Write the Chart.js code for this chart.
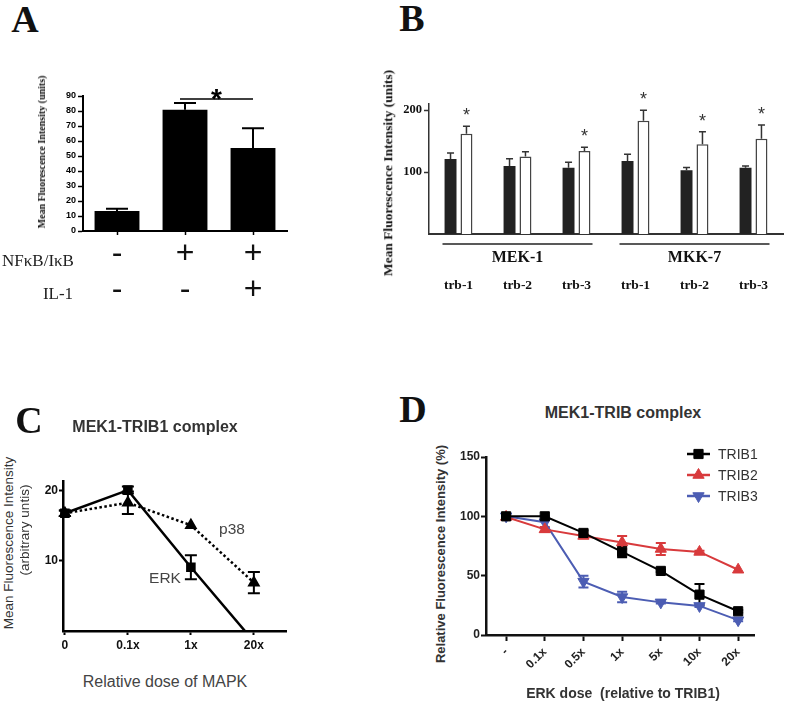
<!DOCTYPE html>
<html>
<head>
<meta charset="utf-8">
<script src="https://cdn.jsdelivr.net/npm/chart.js@4.4.0/dist/chart.umd.min.js"></script>
<style>
  html, body { margin: 0; padding: 0; background: #fff; }
  body { width: 787px; height: 703px; position: relative; overflow: hidden; }
  canvas { position: absolute; }
  .t { position: absolute; transform: translate(-50%, -50%); white-space: nowrap; line-height: 1; }
  .rot { transform: translate(-50%, -50%) rotate(-90deg); }
  .serif { font-family: 'Liberation Serif', 'Times New Roman', serif; }
  .sans { font-family: 'Liberation Sans', Arial, sans-serif; }
  .letter { font-family: 'Liberation Serif', serif; font-weight: bold; font-size: 38px; color: #111; }
</style>
</head>
<body>
<canvas id="chartA"></canvas>
<canvas id="chartB"></canvas>
<canvas id="chartC"></canvas>
<canvas id="chartD"></canvas>

<div class="t letter" style="left:25px;top:19px">A</div>
<div class="t rot serif" style="left:42px;top:152px;font-size:10px;font-weight:bold;color:#111">Mean Fluorescence Intensity (units)</div>
<div class="t serif" style="left:38px;top:260px;font-size:17px;color:#222">NFκB/IκB</div>
<div class="t serif" style="left:58px;top:293px;font-size:17px;color:#222">IL-1</div>

<div class="t letter" style="left:412px;top:18px">B</div>
<div class="t rot serif" style="left:388px;top:173px;font-size:13.5px;font-weight:bold;color:#111">Mean Fluorescence Intensity (units)</div>

<div class="t letter" style="left:29px;top:420px">C</div>
<div class="t sans" style="left:155px;top:427px;font-size:16px;font-weight:bold;color:#333">MEK1-TRIB1 complex</div>
<div class="t rot sans" style="left:9px;top:543px;font-size:13.5px;color:#333">Mean Fluorescence Intensity</div>
<div class="t rot sans" style="left:25px;top:530px;font-size:13.5px;color:#333">(arbitrary untis)</div>
<div class="t sans" style="left:165px;top:578px;font-size:15.5px;color:#444">ERK</div>
<div class="t sans" style="left:232px;top:529px;font-size:15.5px;color:#444">p38</div>
<div class="t sans" style="left:165px;top:682px;font-size:16px;color:#444">Relative dose of MAPK</div>

<div class="t letter" style="left:413px;top:409px">D</div>
<div class="t sans" style="left:623px;top:413px;font-size:16px;font-weight:bold;color:#333">MEK1-TRIB complex</div>
<div class="t rot sans" style="left:440px;top:554px;font-size:13px;font-weight:bold;color:#333">Relative Fluorescence Intensity (%)</div>
<div class="t sans" style="left:623px;top:693px;font-size:14px;font-weight:bold;color:#333">ERK dose&nbsp; (relative to TRIB1)</div>

<script>
// Panel A: bars with NFkB/IkB and IL-1 conditions
const conditionsA = [['-', '-'], ['+', '-'], ['+', '+']];
const intensityA = [13.3, 80.9, 55.4];
const errorA = [1.6, 4.5, 13.1];

// Panel B: control (black) vs treated (white) per kinase / tribbles pair
const groupsB = ['MEK-1', 'MKK-7'];
const tribblesB = ['trb-1', 'trb-2', 'trb-3', 'trb-1', 'trb-2', 'trb-3'];
const controlB = [121, 110, 107, 118, 103, 107];
const controlErrB = [10, 11.5, 9, 11, 4.5, 3];
const treatedB = [162, 125, 134, 183, 145, 154];
const treatedErrB = [12, 8, 6, 17, 20, 22];
const significantB = [true, false, true, true, true, true];
const yTicksB = [100, 200];

// Panel C: MEK1-TRIB1 complex vs MAPK dose
const doseC = ['0', '0.1x', '1x', '20x'];
const erkC = [16.8, 20.1, 9.1, -1.5];
const erkErrC = [0.4, 0.5, 1.7, 0];
const p38C = [16.8, 18.3, 15.1, 6.9];
const p38ErrC = [0.4, 1.6, 0, 1.5];
const yTicksC = [10, 20];

// Panel D: MEK1-TRIB complex vs ERK dose
const doseD = ['-', '0.1x', '0.5x', '1x', '5x', '10x', '20x'];
const trib1 = [100, 100, 86, 70, 54, 34, 20];
const trib1Err = [0, 0, 2, 4.5, 1, 9, 1];
const trib2 = [99.5, 89, 83.5, 78, 72.5, 70, 55];
const trib2Err = [0, 2, 2, 5.5, 5, 1, 0];
const trib3 = [100, 95, 45, 32, 27.5, 24.5, 12.5];
const trib3Err = [0, 5, 5, 4.5, 1, 1, 1];

const SANS = "'Liberation Sans', Arial, sans-serif";
const SERIF = "'Liberation Serif', 'Times New Roman', serif";

function placeCanvas(id, box) {
    const c = document.getElementById(id);
    c.width = box.w;
    c.height = box.h;
    c.style.left = box.l + 'px';
    c.style.top = box.t + 'px';
    c.style.width = box.w + 'px';
    c.style.height = box.h + 'px';
    return c;
}

// padding so the plot area lands on the given page rectangle
function framePadding(box, area, yw, xh) {
    return {
        left: area.l - box.l - yw,
        top: area.t - box.t,
        right: box.l + box.w - area.r,
        bottom: box.t + box.h - area.b - xh,
    };
}

function zeroPad(s) {
    s.paddingLeft = 0;
    s.paddingRight = 0;
    s.paddingTop = 0;
    s.paddingBottom = 0;
}
const fixWidth = (w) => (s) => { s.width = w; zeroPad(s); };
const fixHeight = (h) => (s) => { s.height = h; zeroPad(s); };
const fixedTicks = (values) => (s) => { s.ticks = values.map((value) => ({ value })); };

function drawErrors(chart, phase) {
    const ctx = chart.ctx;
    chart.data.datasets.forEach((ds, i) => {
        if (!ds.errors || (ds.errorPhase || 'after') !== phase) return;
        const meta = chart.getDatasetMeta(i);
        const yScale = chart.scales[meta.yAxisID];
        ctx.save();
        ctx.strokeStyle = ds.errorColor || ds.borderColor;
        ctx.lineWidth = ds.errorWidth || 2;
        meta.data.forEach((el, j) => {
            const err = ds.errors[j];
            if (!err) return;
            const v = meta.controller.getParsed(j).y;
            const x = el.x;
            const top = yScale.getPixelForValue(v + err);
            const bottom = yScale.getPixelForValue(ds.errorBoth ? v - err : v);
            const half = ds.capWidth / 2;
            ctx.beginPath();
            ctx.moveTo(x, bottom);
            ctx.lineTo(x, top);
            ctx.moveTo(x - half, top);
            ctx.lineTo(x + half, top);
            if (ds.errorBoth) {
                ctx.moveTo(x - half, bottom);
                ctx.lineTo(x + half, bottom);
            }
            ctx.stroke();
        });
        ctx.restore();
    });
}

const errorBars = {
    id: 'errorBars',
    beforeDatasetsDraw(chart) { drawErrors(chart, 'before'); },
    afterDatasetsDraw(chart) { drawErrors(chart, 'after'); },
};

// ---------- Panel A ----------
const boxA = { l: 0, t: 60, w: 300, h: 260 };
const areaA = { l: 83, t: 96, r: 287, b: 231 };

const sigA = {
    id: 'sigA',
    afterDatasetsDraw(chart) {
        const { ctx, scales: { x, y } } = chart;
        const x1 = x.getPixelForValue(1) - 5;
        const x2 = x.getPixelForValue(2);
        const yy = y.getPixelForValue(88);
        ctx.save();
        ctx.strokeStyle = '#000';
        ctx.lineWidth = 1.5;
        ctx.beginPath();
        ctx.moveTo(x1, yy);
        ctx.lineTo(x2, yy);
        ctx.stroke();
        ctx.fillStyle = '#000';
        ctx.font = `bold 28px ${SANS}`;
        ctx.textAlign = 'center';
        ctx.textBaseline = 'alphabetic';
        ctx.fillText('*', (x1 + x2) / 2, yy + 9);
        ctx.restore();
    },
};

new Chart(placeCanvas('chartA', boxA), {
    type: 'bar',
    data: {
        labels: conditionsA,
        datasets: [{
            data: intensityA,
            errors: errorA,
            errorColor: '#000',
            errorWidth: 2,
            capWidth: 22,
            backgroundColor: '#000',
            barPercentage: 0.66,
            categoryPercentage: 1,
        }],
    },
    options: {
        responsive: false,
        animation: false,
        layout: { padding: framePadding(boxA, areaA, 83, 80) },
        plugins: { legend: { display: false }, tooltip: { enabled: false } },
        scales: {
            x: {
                grid: { offset: false, drawOnChartArea: false, tickLength: 4, tickColor: '#000', tickWidth: 1.5 },
                border: { color: '#000', width: 2 },
                ticks: { color: '#111', padding: 1, maxRotation: 0, autoSkip: false, font: { family: SANS, size: 32, lineHeight: 1.125 } },
                afterFit: fixHeight(80),
            },
            y: {
                min: 0,
                max: 90,
                grid: { drawOnChartArea: false, tickLength: 5, tickColor: '#000', tickWidth: 1.5 },
                border: { color: '#000', width: 2 },
                ticks: { stepSize: 10, color: '#000', padding: 2, font: { family: SANS, size: 9, weight: 'bold' } },
                afterFit: fixWidth(83),
            },
        },
    },
    plugins: [errorBars, sigA],
});

// ---------- Panel B ----------
const boxB = { l: 395, t: 78, w: 392, h: 222 };
const areaB = { l: 429, t: 104, r: 783, b: 234 };

const groupsPluginB = {
    id: 'groupsB',
    afterDraw(chart) {
        const { ctx, scales: { x }, chartArea } = chart;
        ctx.save();
        ctx.strokeStyle = '#222';
        ctx.fillStyle = '#111';
        ctx.lineWidth = 1.5;
        ctx.font = `bold 16px ${SERIF}`;
        ctx.textAlign = 'center';
        ctx.textBaseline = 'middle';
        groupsB.forEach((name, g) => {
            const left = x.getPixelForValue(g * 3) - 16;
            const right = x.getPixelForValue(g * 3 + 2) + 16;
            ctx.beginPath();
            ctx.moveTo(left, chartArea.bottom + 10);
            ctx.lineTo(right, chartArea.bottom + 10);
            ctx.stroke();
            ctx.fillText(name, (left + right) / 2, chartArea.bottom + 24);
        });
        // significance stars over the treated bars
        const meta = chart.getDatasetMeta(1);
        const yScale = chart.scales.y;
        ctx.fillStyle = '#333';
        ctx.font = `18px ${SANS}`;
        ctx.textBaseline = 'alphabetic';
        significantB.forEach((sig, j) => {
            if (!sig) return;
            const capY = yScale.getPixelForValue(treatedB[j] + treatedErrB[j]);
            ctx.fillText('*', meta.data[j].x, capY - 5);
        });
        ctx.restore();
    },
};

new Chart(placeCanvas('chartB', boxB), {
    type: 'bar',
    data: {
        labels: tribblesB,
        datasets: [
            {
                data: controlB,
                errors: controlErrB,
                errorColor: '#333',
                errorWidth: 1.5,
                capWidth: 7,
                backgroundColor: '#222',
                barPercentage: 0.75,
                categoryPercentage: 0.54,
            },
            {
                data: treatedB,
                errors: treatedErrB,
                errorColor: '#333',
                errorWidth: 1.5,
                capWidth: 7,
                backgroundColor: '#fff',
                borderColor: '#444',
                borderWidth: 1.5,
                barPercentage: 0.75,
                categoryPercentage: 0.54,
            },
        ],
    },
    options: {
        responsive: false,
        animation: false,
        layout: { padding: framePadding(boxB, areaB, 34, 60) },
        plugins: { legend: { display: false }, tooltip: { enabled: false } },
        scales: {
            x: {
                grid: { display: false },
                border: { color: '#333', width: 2 },
                ticks: { color: '#111', padding: 35, maxRotation: 0, autoSkip: false, font: { family: SERIF, size: 13.5, weight: 'bold' } },
                afterFit: fixHeight(60),
            },
            y: {
                min: 0,
                max: 210,
                afterBuildTicks: fixedTicks(yTicksB),
                grid: { drawOnChartArea: false, tickLength: 5, tickColor: '#333', tickWidth: 1.5 },
                border: { color: '#333', width: 1.5 },
                ticks: { color: '#111', padding: 2, font: { family: SERIF, size: 12.5, weight: 'bold' } },
                afterFit: fixWidth(34),
            },
        },
    },
    plugins: [errorBars, groupsPluginB],
});

// ---------- Panel C ----------
const boxC = { l: 35, t: 470, w: 265, h: 195 };
const areaC = { l: 63, t: 481, r: 286, b: 631 };

new Chart(placeCanvas('chartC', boxC), {
    type: 'line',
    data: {
        datasets: [
            {
                label: 'ERK',
                data: erkC.map((y, i) => ({ x: i, y })),
                errors: erkErrC,
                errorBoth: true,
                errorPhase: 'before',
                errorWidth: 2,
                capWidth: 12,
                borderColor: '#000',
                backgroundColor: '#000',
                borderWidth: 2.5,
                pointStyle: 'rect',
                pointRadius: 5,
                tension: 0,
                clip: { left: 10, top: 10, right: 10, bottom: 0 },
            },
            {
                label: 'p38',
                data: p38C.map((y, i) => ({ x: i, y })),
                errors: p38ErrC,
                errorBoth: true,
                errorPhase: 'before',
                errorWidth: 2,
                capWidth: 12,
                borderColor: '#000',
                backgroundColor: '#000',
                borderWidth: 2.5,
                borderDash: [2.5, 2.5],
                pointStyle: 'triangle',
                pointRadius: 5,
                tension: 0,
                clip: { left: 10, top: 10, right: 10, bottom: 0 },
            },
        ],
    },
    options: {
        responsive: false,
        animation: false,
        layout: { padding: framePadding(boxC, areaC, 28, 25) },
        plugins: { legend: { display: false }, tooltip: { enabled: false } },
        scales: {
            x: {
                type: 'linear',
                min: -0.03,
                max: 3.51,
                afterBuildTicks: fixedTicks(doseC.map((_, i) => i)),
                grid: { drawOnChartArea: false, tickLength: 4, tickColor: '#000', tickWidth: 2 },
                border: { color: '#000', width: 2.5 },
                ticks: { color: '#111', padding: 3, maxRotation: 0, autoSkip: false, callback: (v) => doseC[v], font: { family: SANS, size: 12, weight: 'bold' } },
                afterFit: fixHeight(25),
            },
            y: {
                min: 0,
                max: 21.4,
                afterBuildTicks: fixedTicks(yTicksC),
                grid: { drawOnChartArea: false, tickLength: 4, tickColor: '#000', tickWidth: 2 },
                border: { color: '#000', width: 2.5 },
                ticks: { color: '#111', padding: 1, font: { family: SANS, size: 12, weight: 'bold' } },
                afterFit: fixWidth(28),
            },
        },
    },
    plugins: [errorBars],
});

// ---------- Panel D ----------
const boxD = { l: 455, t: 440, w: 332, h: 250 };
const areaD = { l: 486, t: 457, r: 754, b: 635 };

function drawMarker(ctx, ds, x, y) {
    ctx.fillStyle = ds.backgroundColor;
    ctx.strokeStyle = ds.borderColor;
    ctx.lineWidth = 1;
    if (Chart.helpers && Chart.helpers.drawPoint) {
        Chart.helpers.drawPoint(ctx, { pointStyle: ds.pointStyle, radius: ds.pointRadius, rotation: ds.pointRotation || 0, borderWidth: 1 }, x, y);
        return;
    }
    const r = ds.pointRadius;
    ctx.beginPath();
    if (ds.pointStyle === 'rect') {
        const s = r * Math.SQRT1_2;
        ctx.rect(x - s, y - s, 2 * s, 2 * s);
    } else {
        let rad = (ds.pointRotation || 0) * Math.PI / 180;
        for (let k = 0; k < 3; k++) {
            const px = x + Math.sin(rad) * r;
            const py = y - Math.cos(rad) * r;
            if (k === 0) ctx.moveTo(px, py); else ctx.lineTo(px, py);
            rad += 2 * Math.PI / 3;
        }
        ctx.closePath();
    }
    ctx.fill();
    ctx.stroke();
}

const legendD = {
    id: 'legendD',
    afterDraw(chart) {
        const { ctx, chartArea } = chart;
        const x0 = chartArea.right - 67;
        ctx.save();
        ctx.font = `14px ${SANS}`;
        ctx.textBaseline = 'middle';
        ctx.textAlign = 'left';
        chart.data.datasets.forEach((ds, i) => {
            const y = chartArea.top - 3 + i * 21;
            ctx.strokeStyle = ds.borderColor;
            ctx.lineWidth = 2.5;
            ctx.beginPath();
            ctx.moveTo(x0, y);
            ctx.lineTo(x0 + 23, y);
            ctx.stroke();
            drawMarker(ctx, ds, x0 + 11.5, y);
            ctx.fillStyle = '#333';
            ctx.fillText(ds.label, x0 + 31, y + 1);
        });
        ctx.restore();
    },
};

function seriesD(label, values, errors, color, style, rotation) {
    return {
        label,
        data: values.map((y, i) => ({ x: i, y })),
        errors,
        errorBoth: true,
        errorPhase: 'before',
        errorWidth: 2,
        capWidth: 10,
        borderColor: color,
        backgroundColor: color,
        borderWidth: 2,
        pointStyle: style,
        pointRotation: rotation,
        pointRadius: 6.5,
        pointBorderWidth: 1,
        tension: 0,
    };
}

new Chart(placeCanvas('chartD', boxD), {
    type: 'line',
    data: {
        datasets: [
            seriesD('TRIB1', trib1, trib1Err, '#000000', 'rect', 0),
            seriesD('TRIB2', trib2, trib2Err, '#d83a3c', 'triangle', 0),
            seriesD('TRIB3', trib3, trib3Err, '#4c5db3', 'triangle', 180),
        ],
    },
    options: {
        responsive: false,
        animation: false,
        layout: { padding: framePadding(boxD, areaD, 31, 50) },
        plugins: { legend: { display: false }, tooltip: { enabled: false } },
        scales: {
            x: {
                type: 'linear',
                min: -0.52,
                max: 6.41,
                afterBuildTicks: fixedTicks(doseD.map((_, i) => i)),
                grid: { drawOnChartArea: false, tickLength: 6, tickColor: '#111', tickWidth: 2 },
                border: { color: '#111', width: 2.5 },
                ticks: { color: '#222', padding: 4, minRotation: 45, maxRotation: 45, autoSkip: false, callback: (v) => doseD[v], font: { family: SANS, size: 12, weight: 'bold' } },
                afterFit: fixHeight(50),
            },
            y: {
                min: 0,
                max: 150,
                grid: { drawOnChartArea: false, tickLength: 5, tickColor: '#111', tickWidth: 2 },
                border: { color: '#111', width: 2.5 },
                ticks: { stepSize: 50, color: '#222', padding: 1, font: { family: SANS, size: 12, weight: 'bold' } },
                afterFit: fixWidth(31),
            },
        },
    },
    plugins: [errorBars, legendD],
});
</script>
</body>
</html>
